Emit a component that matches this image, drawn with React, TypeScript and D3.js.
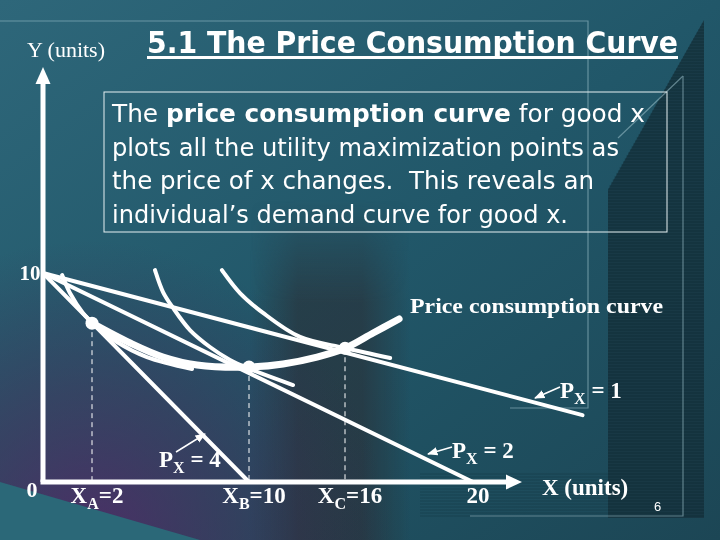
import React from 'react';
import * as d3 from 'd3';

// ---- data ----
const yIntercept = 10;
const budgetPrices = ['4', '2', '1'];
const budgetEndX = [10, 20, 26];
const budgetEndY = [0, 0, 3.2];
const optimumX = [2, 10, 16];
const optimumY = [7.6, 5.5, 6.4];
const indiff1: [number, number][] = [[0.78, 9.9], [1.1, 9.04], [1.63, 8.09], [2.15, 7.51], [3.27, 6.7], [4.8, 5.98], [7.1, 5.41]];
const indiff2: [number, number][] = [[5.21, 10.14], [5.62, 9.09], [6.13, 8.33], [6.99, 7.27], [8.01, 6.46], [9.03, 5.84], [9.8, 5.5], [12.75, 4.64]];
const indiff3: [number, number][] = [[8.62, 10.14], [9.54, 9.04], [10.88, 8.09], [13.19, 6.94], [16, 6.41], [17.41, 5.93]];
const pccPoints: [number, number][] = [[2, 7.6], [3.94, 6.65], [5.62, 5.98], [7.35, 5.6], [10, 5.5], [12.13, 5.65], [14.25, 5.98], [16, 6.4], [16.88, 7.13], [17.69, 7.8]];
const xTickValues = [2, 10, 16, 20];
const xTickSubs = ['A', 'B', 'C', ''];
const xTickTexts = ['=2', '=10', '=16', '20'];
const textLines = [
  ['The ', 'price consumption curve', ' for good x'],
  ['plots all the utility maximization points as'],
  ['the price of x changes.  This reveals an'],
  ['individual\u2019s demand curve for good x.'],
];
const textLineWidths = [533, 507, 482, 456];

// piecewise scale: the slide is drawn freehand, not to scale
const x = d3.scaleLinear().domain([0, 2, 10, 16, 20, 40]).range([43, 92, 249, 345, 473, 838]);
const y = d3.scaleLinear().domain([0, 10]).range([482, 273]);
const curve = d3.line<[number, number]>().x(d => x(d[0])).y(d => y(d[1])).curve(d3.curveCatmullRom.alpha(0.5));

const serif = "'Liberation Serif', 'Times New Roman', serif";
const sans = "'DejaVu Sans Condensed', 'DejaVu Sans', sans-serif";

export default function App() {
  const stripes = d3.range(0, 540, 3);
  return (
    <svg width={720} height={540} style={{ position: 'absolute', left: 0, top: 0, display: 'block' }}>
      <defs>
        <linearGradient id="bg" x1="0" y1="0" x2="1" y2="1">
          <stop offset="0" stopColor="#2e677a" />
          <stop offset="0.5" stopColor="#215769" />
          <stop offset="1" stopColor="#1c4655" />
        </linearGradient>
        <radialGradient id="purple" cx="90" cy="540" r="300" gradientUnits="userSpaceOnUse">
          <stop offset="0" stopColor="#5a2266" stopOpacity="0.75" />
          <stop offset="0.5" stopColor="#4a2a58" stopOpacity="0.45" />
          <stop offset="1" stopColor="#3a2a50" stopOpacity="0" />
        </radialGradient>
        <linearGradient id="band" x1="0" y1="0" x2="1" y2="0">
          <stop offset="0" stopColor="#2b2a30" stopOpacity="0" />
          <stop offset="0.3" stopColor="#2b2a30" stopOpacity="0.55" />
          <stop offset="0.7" stopColor="#2b2a30" stopOpacity="0.55" />
          <stop offset="1" stopColor="#2b2a30" stopOpacity="0" />
        </linearGradient>
        <linearGradient id="bandV" x1="0" y1="0" x2="0" y2="1">
          <stop offset="0" stopColor="#fff" stopOpacity="0" />
          <stop offset="0.3" stopColor="#fff" stopOpacity="1" />
          <stop offset="1" stopColor="#fff" stopOpacity="1" />
        </linearGradient>
        <mask id="bandMask">
          <rect x={0} y={200} width={720} height={340} fill="url(#bandV)" />
        </mask>
        <marker id="ah" viewBox="0 0 10 10" refX="9" refY="5" markerWidth="7" markerHeight="7" orient="auto">
          <path d="M0,1 L10,5 L0,9 z" fill="#fff" />
        </marker>
      </defs>

      {/* background */}
      <rect x={0} y={0} width={720} height={540} fill="url(#bg)" />
      <rect x={250} y={200} width={160} height={340} fill="url(#band)" mask="url(#bandMask)" />
      <rect x={0} y={0} width={720} height={540} fill="url(#purple)" />
      <polygon points="0,482 0,540 200,540" fill="#2b6878" />
      <polygon points="704,20 704,518 608,518 608,190" fill="#173541" opacity={0.85} />
      <g stroke="#0f2830" strokeWidth={1} opacity={0.55}>
        {stripes.filter(s => s > 22 && s < 518).map(s => (
          <line key={s} x1={Math.max(608, 704 - (s - 20) * 0.57)} x2={704} y1={s} y2={s} />
        ))}
        {stripes.filter(s => s > 472 && s < 518).map(s => (
          <line key={'b' + s} x1={420} x2={608} y1={s} y2={s} opacity={0.5} />
        ))}
      </g>
      <g fill="none" stroke="#9fc3cc" strokeWidth={1.2} opacity={0.55}>
        <polyline points="0,21 588,21 588,408 510,408" />
        <polyline points="683,76 683,516 470,516" />
        <line x1={683} y1={76} x2={618} y2={138} />
      </g>

      {/* title */}
      <text x={147} y={53} fill="#fff" fontFamily={sans} fontWeight="bold" fontSize={30} textLength={531} lengthAdjust="spacingAndGlyphs">5.1 The Price Consumption Curve</text>
      <rect x={147} y={56} width={531} height={3} fill="#fff" />

      {/* text box */}
      <rect x={104} y={92} width={563} height={140} fill="none" stroke="#e6f0f2" strokeWidth={1} />
      {textLines.map((parts, i) => (
        <text key={i} x={112} y={122 + i * 33.5} fill="#fff" fontFamily={sans} fontSize={24} textLength={textLineWidths[i]} lengthAdjust="spacingAndGlyphs" style={{ whiteSpace: 'pre' }}>
          {parts.map((p, j) => (
            <tspan key={j} fontWeight={i === 0 && j === 1 ? 'bold' : 'normal'}>{p}</tspan>
          ))}
        </text>
      ))}

      {/* dashed drop lines */}
      {optimumX.map((v, i) => (
        <line key={i} x1={x(v)} x2={x(v)} y1={y(optimumY[i])} y2={y(0)} stroke="#fff" strokeWidth={1} strokeDasharray="5,4" />
      ))}

      {/* budget lines */}
      {budgetPrices.map((p, i) => (
        <line key={p} x1={x(0)} y1={y(yIntercept)} x2={x(budgetEndX[i])} y2={y(budgetEndY[i])} stroke="#fff" strokeWidth={4} strokeLinecap="round" />
      ))}

      {/* indifference curves */}
      {[indiff1, indiff2, indiff3].map((c, i) => (
        <path key={i} d={curve(c) || ''} fill="none" stroke="#fff" strokeWidth={4} strokeLinecap="round" />
      ))}

      {/* price consumption curve */}
      <path d={curve(pccPoints) || ''} fill="none" stroke="#fff" strokeWidth={7} strokeLinecap="round" />
      {optimumX.map((v, i) => (
        <circle key={i} cx={x(v)} cy={y(optimumY[i])} r={6.5} fill="#fff" />
      ))}

      {/* axes */}
      <line x1={x(0)} y1={y(0)} x2={x(0)} y2={82} stroke="#fff" strokeWidth={5} />
      <path d={`M${x(0) - 7.5},84 L${x(0)},67 L${x(0) + 7.5},84 Z`} fill="#fff" />
      <line x1={x(0) - 2.5} y1={y(0)} x2={508} y2={y(0)} stroke="#fff" strokeWidth={5} />
      <path d={`M506,${y(0) - 7.5} L522,${y(0)} L506,${y(0) + 7.5} Z`} fill="#fff" />

      {/* axis labels */}
      <text x={27} y={57} fill="#fff" fontFamily={serif} fontSize={22}>Y (units)</text>
      <text x={542} y={495} fill="#fff" fontFamily={serif} fontWeight="bold" fontSize={23}>X (units)</text>
      <text x={30} y={280} fill="#fff" fontFamily={serif} fontWeight="bold" fontSize={21} textAnchor="middle">{yIntercept}</text>
      <text x={32} y={497} fill="#fff" fontFamily={serif} fontWeight="bold" fontSize={22} textAnchor="middle">0</text>
      {xTickValues.map((v, i) => (
        <text key={v} x={x(v) + 5} y={503} fill="#fff" fontFamily={serif} fontWeight="bold" fontSize={23} textAnchor="middle">
          {xTickSubs[i] ? <>X<tspan fontSize={16} dy={6}>{xTickSubs[i]}</tspan><tspan dy={-6}>{xTickTexts[i]}</tspan></> : xTickTexts[i]}
        </text>
      ))}

      {/* annotations */}
      <text x={410} y={313} fill="#fff" fontFamily={serif} fontWeight="bold" fontSize={22} textLength={253} lengthAdjust="spacingAndGlyphs">Price consumption curve</text>
      {[
        { p: budgetPrices[2], tx: 560, ty: 398, ax1: 560, ay1: 387, ax2: 535, ay2: 398 },
        { p: budgetPrices[1], tx: 452, ty: 458, ax1: 452, ay1: 447, ax2: 428, ay2: 454 },
        { p: budgetPrices[0], tx: 159, ty: 467, ax1: 176, ay1: 452, ax2: 205, ay2: 434 },
      ].map(a => (
        <g key={a.p}>
          <text x={a.tx} y={a.ty} fill="#fff" fontFamily={serif} fontWeight="bold" fontSize={23}>
            P<tspan fontSize={16} dy={6}>X</tspan><tspan dy={-6}>{' = ' + a.p}</tspan>
          </text>
          <line x1={a.ax1} y1={a.ay1} x2={a.ax2} y2={a.ay2} stroke="#fff" strokeWidth={1.5} markerEnd="url(#ah)" />
        </g>
      ))}
      <text x={654} y={511} fill="#fff" fontFamily="'Liberation Sans', Arial, sans-serif" fontSize={13}>6</text>
    </svg>
  );
}
